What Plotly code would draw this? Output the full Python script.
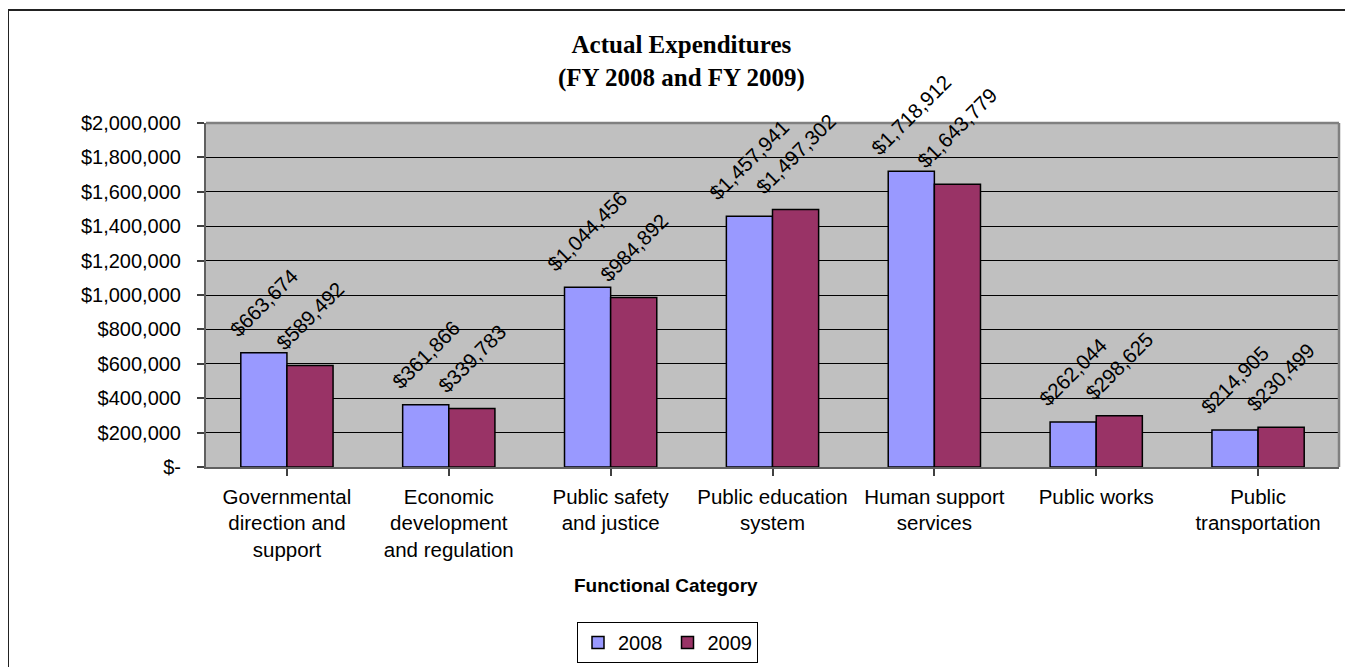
import plotly.graph_objects as go

categories = [
    "Governmental<br>direction and<br>support",
    "Economic<br>development<br>and regulation",
    "Public safety<br>and justice",
    "Public education<br>system",
    "Human support<br>services",
    "Public works",
    "Public<br>transportation",
]
series_names = ["2008", "2009"]
values_2008 = [663674, 361866, 1044456, 1457941, 1718912, 262044, 214905]
values_2009 = [589492, 339783, 984892, 1497302, 1643779, 298625, 230499]
y_tickvals = [0, 200000, 400000, 600000, 800000, 1000000, 1200000, 1400000, 1600000, 1800000, 2000000]
y_ticktext = ["$-", "$200,000", "$400,000", "$600,000", "$800,000", "$1,000,000",
              "$1,200,000", "$1,400,000", "$1,600,000", "$1,800,000", "$2,000,000"]

colors = ["#9999FF", "#993366"]
FONT = "Liberation Sans, Arial, sans-serif"

# page offset introduced by the default 8px body margin of the html page
OFF = 8
W, H = 1353, 667
# target plot area in page pixels: x 206..1339, y 123..467
ml = 206 - OFF
mt = 123 - OFF
pr = 1339 - OFF
pb = 467 - OFF
mr = W - pr
mb = H - pb
pw = pr - ml
ph = pb - mt

def px_x(px):
    return (px - OFF - ml) / pw

def px_y(py):
    return (pb - (py - OFF)) / ph

fig = go.Figure()
idx = list(range(len(categories)))
for name, vals, col in zip(series_names, [values_2008, values_2009], colors):
    fig.add_trace(go.Bar(
        x=idx, y=vals, name=name,
        marker=dict(color=col, line=dict(color="black", width=1.5)),
    ))

bargap = 0.43
bw = (1 - bargap) / 2
annotations = []
for s, vals in enumerate([values_2008, values_2009]):
    off = -bw / 2 if s == 0 else bw / 2
    for i, v in enumerate(vals):
        annotations.append(dict(
            x=i + off, y=v, xref="x", yref="y",
            text=f"${v:,.0f}", showarrow=False, textangle=-45,
            xanchor="center", yanchor="bottom", yshift=9,
            font=dict(family=FONT, size=20.5, color="black"),
        ))

annotations.append(dict(
    x=px_x(666), y=px_y(585), xref="paper", yref="paper",
    text="<b>Functional Category</b>", showarrow=False,
    xanchor="center", yanchor="middle",
    font=dict(family=FONT, size=19, color="black"),
))
annotations.append(dict(
    x=px_x(681), y=px_y(29), xref="paper", yref="paper",
    text="<b>Actual Expenditures<br>(FY 2008 and FY 2009)</b>", showarrow=False,
    xanchor="center", yanchor="top",
    font=dict(family="Liberation Serif, Times New Roman, serif", size=25, color="black"),
))

fig.update_layout(
    width=W, height=H,
    margin=dict(l=ml, r=mr, t=mt, b=mb),
    paper_bgcolor="white",
    plot_bgcolor="#C0C0C0",
    barmode="group",
    bargap=bargap,
    bargroupgap=0,
    xaxis=dict(
        tickmode="array", tickvals=idx, ticktext=categories,
        range=[-0.5, len(categories) - 0.5],
        tickson="boundaries", ticks="outside", ticklen=7, tickcolor="#404040", tickwidth=1.5,
        showline=True, linecolor="#606060", linewidth=2, mirror=False,
        showgrid=False, zeroline=False,
        tickfont=dict(family=FONT, size=20.5, color="black"),
        tickangle=0,
        ticklabelstandoff=3,
    ),
    yaxis=dict(
        range=[0, 2000000],
        tickmode="array", tickvals=y_tickvals, ticktext=y_ticktext,
        ticks="outside", ticklen=7, tickcolor="#404040", tickwidth=1.5,
        showline=True, linecolor="#606060", linewidth=2,
        showgrid=True, gridcolor="black", gridwidth=1,
        zeroline=False,
        tickfont=dict(family=FONT, size=20, color="black"),
        ticklabelstandoff=12,
    ),
    legend=dict(
        orientation="h",
        x=px_x(577), y=px_y(622), xanchor="left", yanchor="top",
        bordercolor="black", borderwidth=1, bgcolor="white",
        font=dict(family=FONT, size=20, color="black"),
        itemwidth=30, traceorder="normal",
    ),
    annotations=annotations,
    shapes=[
        dict(type="line", xref="paper", yref="paper", x0=0, x1=1, y0=1, y1=1,
             line=dict(color="#808080", width=2.5)),
        dict(type="line", xref="paper", yref="paper", x0=1, x1=1, y0=0, y1=1,
             line=dict(color="#808080", width=2.5)),
        dict(type="rect", xref="paper", yref="paper",
             x0=px_x(8), x1=px_x(1352), y0=px_y(720), y1=px_y(10),
             line=dict(color="#222222", width=2), fillcolor="rgba(0,0,0,0)", layer="above"),
    ],
    showlegend=True,
)

fig.write_html("out.html")
